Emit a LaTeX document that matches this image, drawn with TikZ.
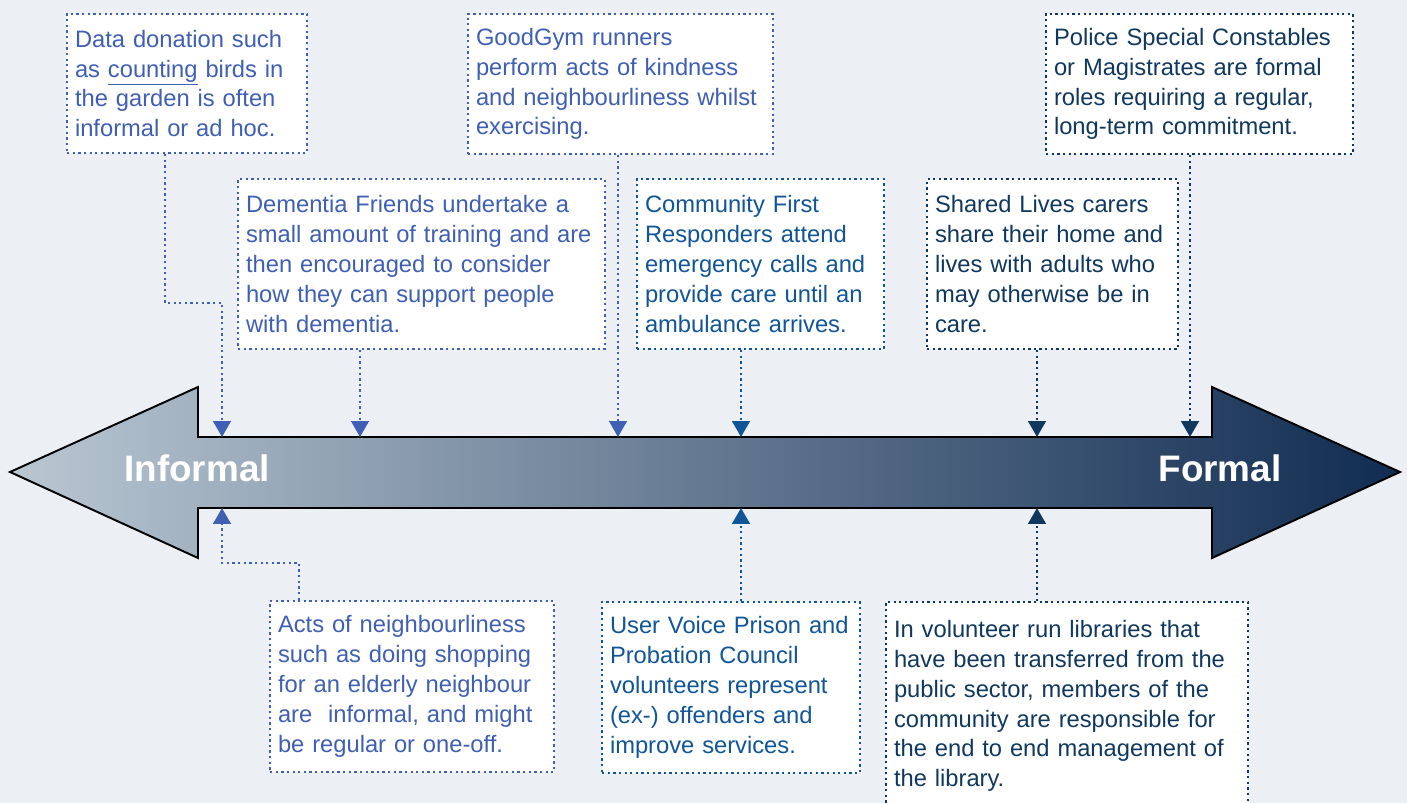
\documentclass[tikz,border=0pt]{standalone}
\usepackage{fontspec}
\setmainfont{Liberation Sans}
\usetikzlibrary{arrows.meta}

\definecolor{bgcol}{RGB}{236,240,244}
\definecolor{lightblue}{RGB}{63,95,180}
\definecolor{midblue}{RGB}{16,85,151}
\definecolor{navy}{RGB}{16,56,95}
\definecolor{arrowleft}{RGB}{185,199,210}
\definecolor{arrowmid}{RGB}{138,153,169}
\definecolor{arrowright}{RGB}{17,44,82}

\tikzset{
  notebox/.style={draw=#1, text=#1, fill=white, line width=1.3pt,
    dash pattern=on 1.3pt off 1.9pt, align=left, inner xsep=0.16cm, inner ysep=0pt,
    font=\fontsize{13.5}{17}\selectfont},
  pointer/.style={draw=#1, line width=1.3pt, dash pattern=on 1.3pt off 1.9pt,
    -{Triangle[width=10pt,length=9pt,fill=#1]}},
  endtext/.style={text=white, font=\bfseries\fontsize{21}{25}\selectfont}
}

\begin{document}
\begin{tikzpicture}[x=0.02cm,y=-0.02cm]
    \fill[bgcol] (0,0) rectangle (1407,803);
    \useasboundingbox (0,0) rectangle (1407,803);

    % double arrow
    \draw[line width=1.1pt, left color=arrowleft, middle color=arrowmid, right color=arrowright]
        (10,472) -- (198,387) -- (198,437) -- (1212,437) -- (1212,387) -- (1400,472)
        -- (1212,558) -- (1212,508) -- (198,508) -- (198,558) -- cycle;
    \node[endtext] (informal) at (197,468) {Informal};
    \node[endtext] (formal) at (1220,468) {Formal};

    % boxes above
    \node[notebox=lightblue, text width=4.48cm, minimum height=2.78cm] (data) at (187,83.5)
        {Data donation such\\as \underline{counting} birds in\\the garden is often\\informal or ad hoc.};
    \node[notebox=lightblue, text width=7.02cm, minimum height=3.4cm] (dementia) at (421.5,264)
        {Dementia Friends undertake a\\small amount of training and are\\then encouraged to consider\\how they can support people\\with dementia.};
    \node[notebox=lightblue, text width=5.78cm, minimum height=2.8cm] (goodgym) at (620.5,84)
        {GoodGym runners\\perform acts of kindness\\and neighbourliness whilst\\exercising.};
    \node[notebox=midblue, text width=4.62cm, minimum height=3.4cm] (cfr) at (760.5,264)
        {Community First\\Responders attend\\emergency calls and\\provide care until an\\ambulance arrives.};
    \node[notebox=navy, text width=4.7cm, minimum height=3.4cm] (shared) at (1052.5,264)
        {Shared Lives carers\\share their home and\\lives with adults who\\may otherwise be in\\care.};
    \node[notebox=navy, text width=5.82cm, minimum height=2.8cm] (police) at (1199.5,84)
        {Police Special Constables\\or Magistrates are formal\\roles requiring a regular,\\long-term commitment.};

    % boxes below
    \node[notebox=lightblue, text width=5.36cm, minimum height=3.42cm] (acts) at (412,686.5)
        {Acts of neighbourliness\\such as doing shopping\\for an elderly neighbour\\are~ informal, and might\\be regular or one-off.};
    \node[notebox=midblue, text width=4.84cm, minimum height=3.42cm] (uservoice) at (731,687.5)
        {User Voice Prison and\\Probation Council\\volunteers represent\\(ex-) offenders and\\improve services.};
    \node[notebox=navy, text width=6.92cm, minimum height=4.16cm] (library) at (1067,706)
        {In volunteer run libraries that\\have been transferred from the\\public sector, members of the\\community are responsible for\\the end to end management of\\the library.};

    % where the pointers meet the arrow
    \coordinate (p1) at (222,437);
    \coordinate (p2) at (360,437);
    \coordinate (p3) at (618,437);
    \coordinate (p4) at (741,437);
    \coordinate (p5) at (1037,437);
    \coordinate (p6) at (1190,437);
    \coordinate (q1) at (222,508);
    \coordinate (q2) at (741,508);
    \coordinate (q3) at (1037,508);
    \coordinate (dkink) at (165,303);
    \coordinate (akink) at (299,563);

    \draw[pointer=lightblue] (data.south -| dkink) -- (dkink) -| (p1);
    \draw[pointer=lightblue] (dementia.south -| p2) -- (p2);
    \draw[pointer=lightblue] (goodgym.south -| p3) -- (p3);
    \draw[pointer=midblue] (cfr.south -| p4) -- (p4);
    \draw[pointer=navy] (shared.south -| p5) -- (p5);
    \draw[pointer=navy] (police.south -| p6) -- (p6);
    \draw[pointer=lightblue] (acts.north -| akink) -- (akink) -| (q1);
    \draw[pointer=midblue] (uservoice.north -| q2) -- (q2);
    \draw[pointer=navy] (library.north -| q3) -- (q3);
\end{tikzpicture}
\end{document}
